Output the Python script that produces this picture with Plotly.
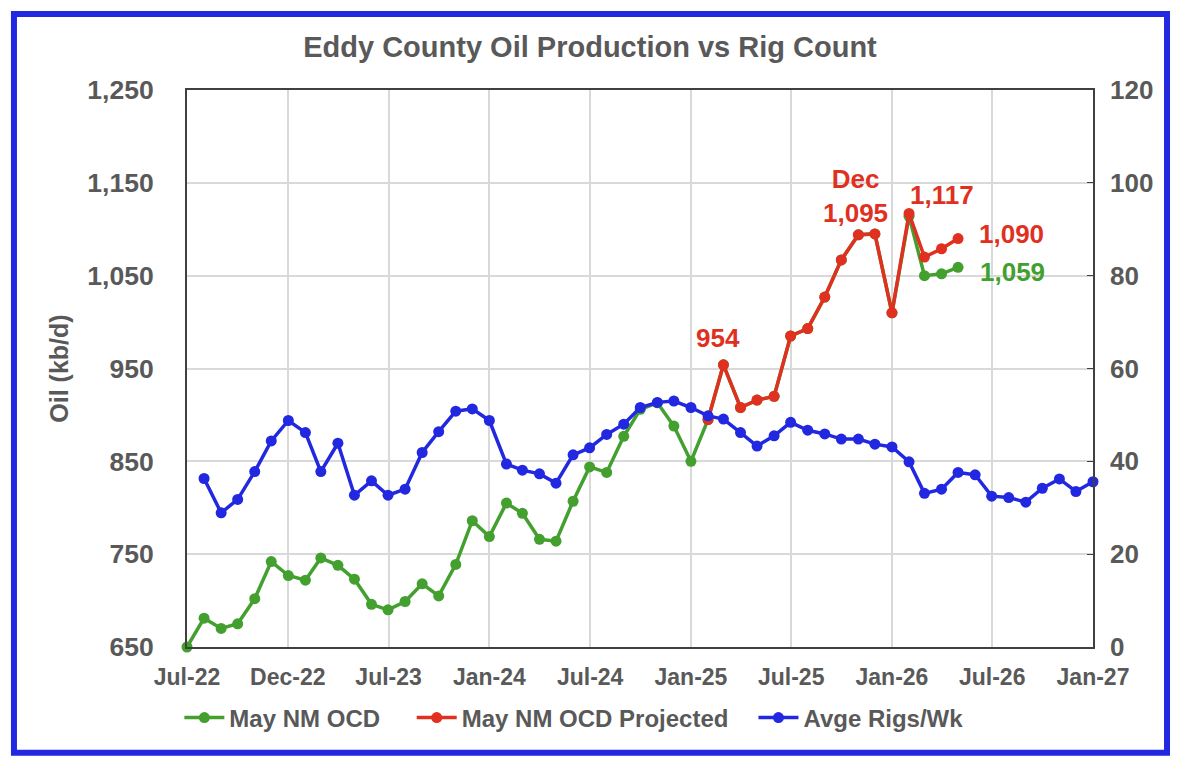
import pandas as pd
import plotly.graph_objects as go

# production, kb/d, monthly from Jul-22
ocd_start = "2022-07-01"
ocd_values = [650, 681, 670, 675, 702, 742,
              727, 722, 746, 738, 723, 696, 690, 699, 718, 705, 739, 786,
              769, 805, 794, 766, 764, 807, 844, 838, 877, 906, 913, 888,
              850, 895, 954, 908, 916, 920, 985, 993, 1027, 1067, 1094, 1095,
              1010, 1114, 1050, 1052, 1059]

# projected, monthly from Feb-25
proj_start = "2025-02-01"
proj_values = [895, 954, 908, 916, 920, 985, 993, 1027, 1067, 1094, 1095,
               1010, 1117, 1070, 1079, 1090]

# rigs per week, monthly from Aug-22
rigs_start = "2022-08-01"
rigs_values = [36.3, 28.9, 31.8, 37.8, 44.4,
               48.8, 46.2, 37.8, 43.9, 32.7, 35.8, 32.7, 34.0, 41.9, 46.4, 50.8, 51.3,
               48.8, 39.4, 38.1, 37.3, 35.3, 41.4, 42.9, 45.8, 48.0, 51.6, 52.7, 53.0,
               51.6, 49.8, 49.1, 46.2, 43.3, 45.5, 48.4, 46.7, 45.9, 44.8, 44.8, 43.7,
               43.1, 39.9, 33.1, 34.0, 37.6, 37.1, 32.5, 32.2, 31.2, 34.2, 36.2, 33.5,
               35.6]

tick_dates = ["2022-07-01", "2022-12-31", "2023-07-02", "2024-01-01", "2024-07-02",
              "2025-01-01", "2025-07-02", "2026-01-01", "2026-07-02", "2027-01-01"]
tick_labels = ["Jul-22", "Dec-22", "Jul-23", "Jan-24", "Jul-24",
               "Jan-25", "Jul-25", "Jan-26", "Jul-26", "Jan-27"]

GREEN = "#43a02f"
RED = "#e0301f"
BLUE = "#2128e0"
GREY = "#595959"


def months(start, n):
    return pd.date_range(start, periods=n, freq="MS")


def bold(s):
    return "<b>%s</b>" % s


ocd_x = months(ocd_start, len(ocd_values))
proj_x = months(proj_start, len(proj_values))
rigs_x = months(rigs_start, len(rigs_values))

fig = go.Figure()
# trailing spaces widen the gaps between legend entries
fig.add_trace(go.Scatter(name=bold("May NM OCD") + "&nbsp;" * 4, x=ocd_x, y=ocd_values,
                         mode="lines+markers", line=dict(color=GREEN, width=3.5),
                         marker=dict(size=11, color=GREEN), cliponaxis=False))
fig.add_trace(go.Scatter(name=bold("May NM OCD Projected") + "&nbsp;" * 3, x=proj_x,
                         y=proj_values,
                         mode="lines+markers", line=dict(color=RED, width=3.5),
                         marker=dict(size=11, color=RED), cliponaxis=False))
fig.add_trace(go.Scatter(name=bold("Avge Rigs/Wk"), x=rigs_x, y=rigs_values, yaxis="y2",
                         mode="lines+markers", line=dict(color=BLUE, width=3.5),
                         marker=dict(size=11, color=BLUE), cliponaxis=False))

# data labels
labels = [
    (proj_x[1], proj_values[1], "954", RED, -5, 27),
    (proj_x[10], proj_values[10], "Dec<br>1,095", RED, -19, 38),
    (proj_x[12], proj_values[12], "1,117", RED, 33, 18),
    (proj_x[-1], proj_values[-1], "1,090", RED, 53, 5),
    (ocd_x[-1], ocd_values[-1], "1,059", GREEN, 54, -5),
]
for x, y, text, color, dx, dy in labels:
    fig.add_annotation(x=x, y=y, text=bold(text), showarrow=False,
                       xshift=dx, yshift=dy, xanchor="center", yanchor="middle",
                       font=dict(size=26, color=color))

# blue frame round the chart
fig.add_shape(type="rect", xref="paper", yref="paper",
              x0=-0.191, x1=1.0817, y0=-0.19, y1=1.1364,
              line=dict(color=BLUE, width=6), layer="above")

# page body has an 8px margin, so the figure is 8px smaller on each side
fig.update_layout(
    width=1176,
    height=762,
    margin=dict(l=179, r=91, t=82, b=123),
    paper_bgcolor="white",
    plot_bgcolor="white",
    font=dict(family="Liberation Sans, Arial", size=22, color=GREY),
    title=dict(text=bold("Eddy County Oil Production vs Rig Count"),
               x=582 / 1176, xref="container", xanchor="center",
               y=1 - 39 / 762, yref="container", yanchor="middle",
               font=dict(size=29, color=GREY)),
    xaxis=dict(type="date", range=["2022-07-01", "2027-01-01"],
               tickvals=tick_dates, ticktext=[bold(t) for t in tick_labels],
               tickfont=dict(size=23), ticks="", ticklabelstandoff=8,
               showgrid=True, gridcolor="#d9d9d9", gridwidth=1.5,
               showline=True, linecolor="#404040", linewidth=2, mirror=True,
               zeroline=False),
    yaxis=dict(range=[650, 1250], dtick=100, tick0=650, tickformat=",",
               tickfont=dict(size=26.5), ticks="", ticklabelstandoff=26,
               showgrid=True, gridcolor="#d9d9d9", gridwidth=1.5,
               showline=True, linecolor="#404040", linewidth=2, mirror=True,
               zeroline=False,
               title=dict(text=bold("Oil (kb/d)"), font=dict(size=25), standoff=12)),
    yaxis2=dict(range=[0, 120], dtick=20, overlaying="y", side="right",
                tickfont=dict(size=26), ticks="inside", ticklen=6,
                tickcolor="#404040", ticklabelstandoff=16,
                showgrid=False, zeroline=False, showline=False),
    legend=dict(orientation="h", x=0.427, xanchor="center", y=-0.1275,
                yanchor="middle", font=dict(size=24, color=GREY),
                itemwidth=40, traceorder="normal"),
)
fig.update_yaxes(tickprefix="<b>", ticksuffix="</b>")

fig.write_html("out.html")
